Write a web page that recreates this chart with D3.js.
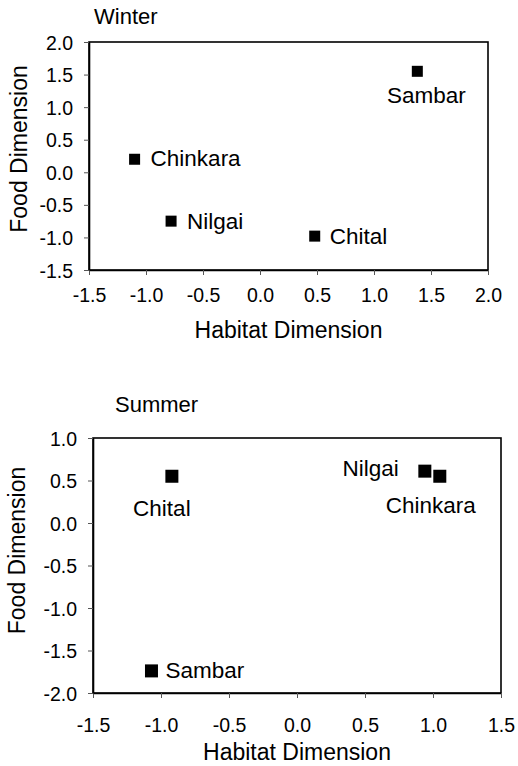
<!DOCTYPE html>
<html>
<head>
<meta charset="utf-8">
<script src="https://cdn.jsdelivr.net/npm/d3@7"></script>
<style>
  html, body { margin: 0; padding: 0; background: #fff; }
  svg { display: block; }
  text { font-family: "Liberation Sans", Arial, Helvetica, sans-serif; fill: #000; }
</style>
</head>
<body>
<svg id="chart" width="518" height="766"></svg>
<script>
// ---- Data ----
const winterSpecies = ["Sambar", "Chinkara", "Nilgai", "Chital"];
const winterHabitat = [1.38, -1.10, -0.78, 0.48];
const winterFood    = [1.55, 0.20, -0.75, -0.98];

const summerSpecies = ["Chital", "Nilgai", "Chinkara", "Sambar"];
const summerHabitat = [-0.92, 0.94, 1.05, -1.07];
const summerFood    = [0.55, 0.61, 0.55, -1.74];

const winterXTicks = [-1.5, -1.0, -0.5, 0.0, 0.5, 1.0, 1.5, 2.0];
const winterYTicks = [-1.5, -1.0, -0.5, 0.0, 0.5, 1.0, 1.5, 2.0];
const summerXTicks = [-1.5, -1.0, -0.5, 0.0, 0.5, 1.0, 1.5];
const summerYTicks = [-2.0, -1.5, -1.0, -0.5, 0.0, 0.5, 1.0];

const xTitle = "Habitat Dimension";
const yTitle = "Food Dimension";

// ---- Layout (positions / styles) ----
const panels = [
  {
    title: "Winter", species: winterSpecies, hx: winterHabitat, fy: winterFood,
    xTicks: winterXTicks, yTicks: winterYTicks,
    left: 89, right: 488, top: 42, bottom: 270,
    titlePos: [94, 24], xTitleY: 338, yTitleX: 27, yTitleShift: -7,
    xLabelY: 302, marker: 11,
    labels: [
      {anchor: "middle", dx: 9, dy: 32},
      {anchor: "start", dx: 16, dy: 7},
      {anchor: "start", dx: 16, dy: 8},
      {anchor: "start", dx: 15, dy: 8}
    ]
  },
  {
    title: "Summer", species: summerSpecies, hx: summerHabitat, fy: summerFood,
    xTicks: summerXTicks, yTicks: summerYTicks,
    left: 93, right: 501, top: 438, bottom: 693,
    titlePos: [115, 412], xTitleY: 760, yTitleX: 25, yTitleShift: -15,
    xLabelY: 732, marker: 13,
    labels: [
      {anchor: "middle", dx: -10, dy: 40},
      {anchor: "end", dx: -26, dy: 5},
      {anchor: "middle", dx: -9, dy: 37},
      {anchor: "start", dx: 14, dy: 7}
    ]
  }
];

const svg = d3.select("#chart");
const fmt = d => d.toFixed(1);

panels.forEach(p => {
  const x = d3.scaleLinear()
    .domain([p.xTicks[0], p.xTicks[p.xTicks.length - 1]])
    .range([p.left, p.right]);
  const y = d3.scaleLinear()
    .domain([p.yTicks[0], p.yTicks[p.yTicks.length - 1]])
    .range([p.bottom, p.top]);

  const g = svg.append("g");

  // frame
  g.append("rect")
    .attr("x", p.left).attr("y", p.top)
    .attr("width", p.right - p.left).attr("height", p.bottom - p.top)
    .attr("fill", "none").attr("stroke", "#000").attr("stroke-width", 1.6);

  // x axis
  const xa = g.append("g")
    .attr("transform", `translate(0,${p.bottom})`)
    .call(d3.axisBottom(x).tickValues(p.xTicks).tickFormat(fmt).tickSize(5).tickSizeOuter(0).tickPadding(14));
  xa.select(".domain").attr("stroke", "#000").attr("stroke-width", 1.6);
  xa.selectAll(".tick line").attr("stroke", "#555").attr("stroke-width", 1);
  xa.selectAll(".tick text")
    .attr("font-size", 19.5)
    .attr("font-family", "Liberation Sans, Arial, sans-serif")
    .attr("y", null).attr("dy", null)
    .attr("transform", `translate(0,${p.xLabelY - p.bottom})`);

  // y axis
  const ya = g.append("g")
    .attr("transform", `translate(${p.left},0)`)
    .call(d3.axisLeft(y).tickValues(p.yTicks).tickFormat(fmt).tickSize(5).tickSizeOuter(0).tickPadding(11));
  ya.select(".domain").attr("stroke", "#000").attr("stroke-width", 1.6);
  ya.selectAll(".tick line").attr("stroke", "#555").attr("stroke-width", 1);
  ya.selectAll(".tick text")
    .attr("font-size", 19.5)
    .attr("font-family", "Liberation Sans, Arial, sans-serif")
    .attr("dy", "0.36em");

  // panel title
  g.append("text")
    .attr("x", p.titlePos[0]).attr("y", p.titlePos[1])
    .attr("font-size", 22)
    .text(p.title);

  // axis titles
  g.append("text")
    .attr("x", (p.left + p.right) / 2).attr("y", p.xTitleY)
    .attr("text-anchor", "middle").attr("font-size", 23)
    .text(xTitle);
  g.append("text")
    .attr("transform", `translate(${p.yTitleX},${(p.top + p.bottom) / 2 + p.yTitleShift}) rotate(-90)`)
    .attr("text-anchor", "middle").attr("font-size", 23)
    .text(yTitle);

  // points
  const data = p.species.map((s, i) => ({name: s, hx: p.hx[i], fy: p.fy[i], lab: p.labels[i]}));
  const m = p.marker;
  g.selectAll("rect.pt").data(data).enter().append("rect")
    .attr("class", "pt")
    .attr("x", d => x(d.hx) - m / 2).attr("y", d => y(d.fy) - m / 2)
    .attr("width", m).attr("height", m)
    .attr("fill", "#000");

  g.selectAll("text.lbl").data(data).enter().append("text")
    .attr("class", "lbl")
    .attr("x", d => x(d.hx) + d.lab.dx)
    .attr("y", d => y(d.fy) + d.lab.dy)
    .attr("text-anchor", d => d.lab.anchor)
    .attr("font-size", 22.5)
    .text(d => d.name);
});
</script>
</body>
</html>
